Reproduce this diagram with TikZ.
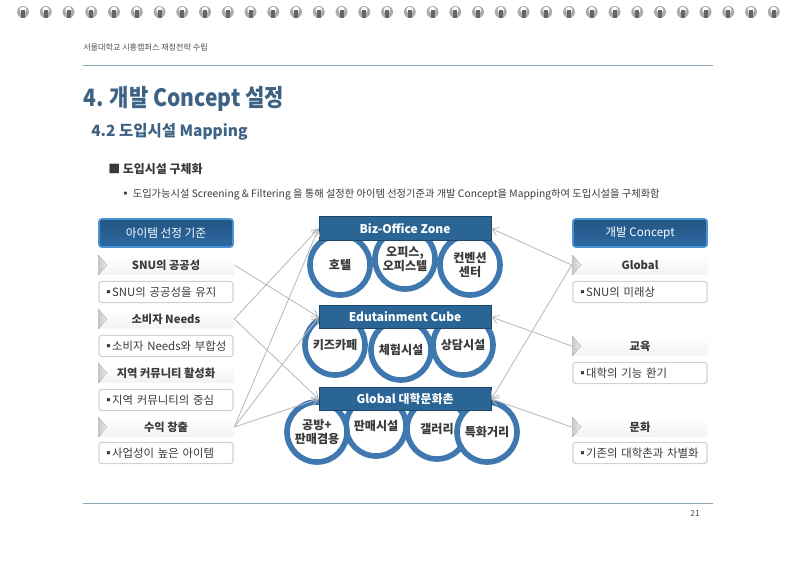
\documentclass[tikz,border=0pt]{standalone}
\usepackage{fontspec}
\setmainfont{Noto Sans CJK KR}
\newfontfamily\titlefont[FakeStretch=0.88]{Noto Sans CJK KR}
\usetikzlibrary{arrows.meta}
\definecolor{titleblue}{HTML}{3E6283}
\definecolor{ringblue}{HTML}{3F78AE}
\definecolor{barblue}{HTML}{2A6596}
\definecolor{headblue}{HTML}{2C6AA3}
\definecolor{edgeblue}{HTML}{4A92D6}
\definecolor{boxedge}{HTML}{CBD2DB}
\definecolor{textgray}{HTML}{3A3A3A}
\definecolor{rulegray}{HTML}{8FA6B5}
\newcommand{\itemdot}{▪\kern-1.6pt}
\tikzset{
    headbox/.style={rectangle, rounded corners=2pt, draw=edgeblue, line width=1.2pt, top color=headblue!80!black, bottom color=headblue, text=white, minimum width=3.35cm, minimum height=0.7cm, font=\fontsize{8.3}{10}\selectfont},
    band/.style={rectangle, top color=white, bottom color=gray!9, minimum width=3.4cm, minimum height=0.45cm, inner sep=0pt, text=textgray, font=\fontsize{8}{10}\selectfont\bfseries},
    itembox/.style={rectangle, rounded corners=2pt, draw=boxedge, line width=0.8pt, fill=white, minimum height=0.53cm, text width=3.15cm, align=left, inner xsep=0.1cm, inner ysep=0pt, text=textgray, font=\fontsize{8.1}{10}\selectfont},
    ring/.style={circle, draw=ringblue, line width=4pt, fill=white, minimum size=1.5cm, inner sep=0pt, align=center, text=textgray, font=\fontsize{8.6}{10.5}\selectfont\bfseries},
    zonebar/.style={rectangle, draw=barblue!70!black, line width=0.6pt, fill=barblue, text=white, minimum width=4.3cm, minimum height=0.58cm, inner sep=0pt, font=\fontsize{8.5}{10}\selectfont\bfseries},
    link/.style={-{Straight Barb[length=4.5pt,width=6pt]}, gray!55, line width=0.6pt}
}
\begin{document}
\begin{tikzpicture}[x=0.025cm, y=-0.025cm]
            \useasboundingbox (0,0) rectangle (800,565);
            \foreach \i in {0,...,33} {
                \fill[gray!65] (23+22.75*\i, 12) circle (6);
                \fill[white] (23+22.75*\i, 10) circle (3.2);
                \fill[black!60] (21+22.75*\i, 10) rectangle (25+22.75*\i, 18);
            }
            \node[anchor=west, inner sep=0pt, text=black!70, font=\fontsize{5.75}{7}\selectfont] (runhead) at (83, 47) {서울대학교 시흥캠퍼스 재정전략 수립};
            \node[anchor=west, inner sep=0pt, text=titleblue, font=\fontsize{17}{20}\selectfont\titlefont\bfseries] (title) at (83, 99) {4. 개발 Concept 설정};
            \node[anchor=west, inner sep=0pt, text=titleblue, font=\fontsize{11}{14}\selectfont\bfseries] (subtitle) at (91, 132) {4.2 도입시설 Mapping};
            \node[anchor=west, inner sep=0pt, text=textgray, font=\fontsize{8.5}{10}\selectfont\bfseries] (sect) at (108, 169) {■ 도입시설 구체화};
            \node[anchor=west, inner sep=0pt, text=textgray, font=\fontsize{7.3}{9}\selectfont] (lead) at (120, 195) {▪ 도입가능시설 Screening \& Filtering 을 통해 설정한 아이템 선정기준과 개발 Concept을 Mapping하여 도입시설을 구체화함};
            \draw[rulegray, line width=0.7pt] (83, 65) -- (713, 65);
            \draw[rulegray, line width=0.7pt] (83, 503) -- (713, 503);
            \node[text=black!70, inner sep=0pt, font=\fontsize{5.9}{7}\selectfont] (pageno) at (695, 513) {21};
            \node[headbox] (hl) at (166, 233) {아이템 선정 기준};
            \node[band] (l1) at (166, 265) {SNU의 공공성};
            \node[itembox] (i1) at (166, 292) {\itemdot SNU의 공공성을 유지};
            \node[band] (l2) at (166, 319) {소비자 Needs};
            \node[itembox] (i2) at (166, 346) {\itemdot 소비자 Needs와 부합성};
            \node[band] (l3) at (166, 373) {지역 커뮤니티 활성화};
            \node[itembox] (i3) at (166, 400) {\itemdot 지역 커뮤니티의 중심};
            \node[band] (l4) at (166, 427) {수익 창출};
            \node[itembox] (i4) at (166, 453) {\itemdot 사업성이 높은 아이템};
            \node[headbox] (hr) at (640, 233) {개발 Concept};
            \node[band] (r1) at (640, 265) {Global};
            \node[itembox] (j1) at (640, 292) {\itemdot SNU의 미래상};
            \node[band] (r2) at (640, 346) {교육};
            \node[itembox] (j2) at (640, 373) {\itemdot 대학의 기능 환기};
            \node[band] (r3) at (640, 427) {문화};
            \node[itembox] (j3) at (640, 453) {\itemdot 기존의 대학촌과 차별화};
            \foreach \x/\y in {98/265, 98/319, 98/373, 98/427, 572/265, 572/346, 572/427} {
                \fill[left color=gray!45, right color=gray!12] (\x, \y-10) -- (\x+9, \y) -- (\x, \y+10) -- cycle;
            }
            \node[ring] (c1) at (340, 265) {호텔};
            \node[ring] (c2) at (405, 259) {오피스,\\오피스텔};
            \node[ring] (c3) at (470, 265) {컨벤션\\센터};
            \node[ring] (c4) at (335, 345) {키즈카페};
            \node[ring] (c5) at (401, 350) {체험시설};
            \node[ring] (c6) at (463, 345) {상담시설};
            \node[ring] (c8) at (376, 426) {판매시설};
            \node[ring] (c9) at (437, 429) {갤러리};
            \node[ring] (c7) at (317, 432) {공방+\\판매겸용};
            \node[ring] (c10) at (487, 432) {특화거리};
            \node[zonebar] (z1) at (405, 228.5) {Biz-Office Zone};
            \node[zonebar] (z2) at (405, 317) {Edutainment Cube};
            \node[zonebar] (z3) at (405, 399) {Global 대학문화촌};
            \draw[link] (l1.east) -- (z2.west);
            \draw[link] (l2.east) -- (z1.west);
            \draw[link] (l2.east) -- (z3.west);
            \draw[link] (l4.east) -- (z1.west);
            \draw[link] (l4.east) -- (z2.west);
            \draw[link] (l4.east) -- (z3.west);
            \draw[link] (r1.west) -- (z1.east);
            \draw[link] (r1.west) -- (z3.east);
            \draw[link] (r2.west) -- (z2.east);
            \draw[link] (r3.west) -- (z3.east);
        \end{tikzpicture}
\end{document}
